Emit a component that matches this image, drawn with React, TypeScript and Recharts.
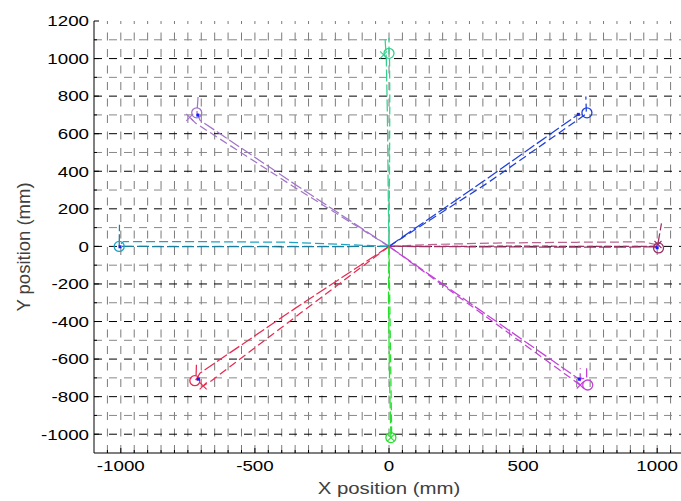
import { ComposedChart, Line, Scatter, XAxis, YAxis, CartesianGrid } from "recharts"

type Pt = { x: number; y: number }

// axes (mm)
const xDomain = [-1100, 1100]
const yDomain = [-1100, 1200]
const xLabelTicks = [-1000, -500, 0, 500, 1000]
const xGrid = [
  -1050, -1000, -950, -900, -850, -800, -750, -700, -650, -600, -550, -500, -450, -400, -350,
  -300, -250, -200, -150, -100, -50, 0, 50, 100, 150, 200, 250, 300, 350, 400, 450, 500, 550,
  600, 650, 700, 750, 800, 850, 900, 950, 1000, 1050,
]
const yLabelTicks = [-1000, -800, -600, -400, -200, 0, 200, 400, 600, 800, 1000, 1200]
const yGridMajor = [-1000, -800, -600, -400, -200, 0, 200, 400, 600, 800, 1000]
const yGridMinor = [-900, -700, -500, -300, -100, 100, 300, 500, 700, 900, 1100]
const yTicksAll = [
  -1000, -900, -800, -700, -600, -500, -400, -300, -200, -100, 0, 100, 200, 300, 400, 500, 600,
  700, 800, 900, 1000, 1100, 1200,
]

// trajectories (mm), two or three trials per direction
const eastA: Pt[] = [{ x: 0, y: 0 }, { x: 300, y: -2 }, { x: 700, y: -4 }, { x: 1000, y: -3 }, { x: 1003, y: 15 }, { x: 1016, y: 123 }]
const eastB: Pt[] = [{ x: 0, y: 0 }, { x: 150, y: 10 }, { x: 400, y: 18 }, { x: 700, y: 22 }, { x: 950, y: 24 }, { x: 1000, y: 8 }]
const eastC: Pt[] = [{ x: 0, y: 0 }, { x: 500, y: 1 }, { x: 1000, y: 0 }]
const northEastA: Pt[] = [{ x: 0, y: 0 }, { x: 350, y: 345 }, { x: 706, y: 703 }]
const northEastB: Pt[] = [{ x: 0, y: 0 }, { x: 370, y: 340 }, { x: 720, y: 690 }, { x: 736, y: 706 }, { x: 734, y: 798 }]
const northA: Pt[] = [{ x: 0, y: 0 }, { x: -3, y: 300 }, { x: -6, y: 700 }, { x: -10, y: 1000 }, { x: -15, y: 1115 }]
const northB: Pt[] = [{ x: 0, y: 0 }, { x: 2, y: 400 }, { x: 3, y: 800 }, { x: 2, y: 1000 }, { x: 0, y: 1030 }, { x: 0, y: 1110 }]
const northWestA: Pt[] = [{ x: 0, y: 0 }, { x: -350, y: 330 }, { x: -705, y: 672 }, { x: -716, y: 712 }, { x: -712, y: 795 }]
const northWestB: Pt[] = [{ x: 0, y: 0 }, { x: -360, y: 322 }, { x: -720, y: 655 }, { x: -743, y: 687 }]
const westA: Pt[] = [{ x: 0, y: 0 }, { x: -400, y: -2 }, { x: -800, y: -1 }, { x: -1006, y: 0 }, { x: -1005, y: 115 }]
const westB: Pt[] = [{ x: 0, y: 0 }, { x: -370, y: 22 }, { x: -700, y: 25 }, { x: -990, y: 26 }, { x: -1006, y: 5 }]
const southWestA: Pt[] = [{ x: 0, y: 0 }, { x: -350, y: -330 }, { x: -705, y: -675 }, { x: -720, y: -712 }, { x: -718, y: -630 }]
const southWestB: Pt[] = [{ x: 0, y: 0 }, { x: -330, y: -355 }, { x: -662, y: -715 }, { x: -693, y: -743 }]
const southA: Pt[] = [{ x: 0, y: 0 }, { x: -2, y: -300 }, { x: 2, y: -700 }, { x: 7, y: -1018 }]
const southB: Pt[] = [{ x: 0, y: 0 }, { x: 4, y: -400 }, { x: 8, y: -800 }, { x: 10, y: -1000 }]
const southEastA: Pt[] = [{ x: 0, y: 0 }, { x: 355, y: -355 }, { x: 709, y: -707 }, { x: 737, y: -700 }, { x: 737, y: -649 }]
const southEastB: Pt[] = [{ x: 0, y: 0 }, { x: 360, y: -372 }, { x: 713, y: -738 }, { x: 713, y: -649 }]

// end markers (mm), order E, NE, N, NW, W, SW, S, SE
const targets: Pt[] = [
  { x: 1005, y: -8 }, { x: 738, y: 711 }, { x: 0, y: 1028 }, { x: -717, y: 711 },
  { x: -1006, y: 0 }, { x: -724, y: -715 }, { x: 7, y: -1018 }, { x: 741, y: -738 },
]
const crosses: Pt[] = [
  { x: 1003, y: 10 }, { x: -20, y: 1020 }, { x: -743, y: 687 }, { x: -693, y: -743 },
  { x: 7, y: -1018 }, { x: 713, y: -738 },
]
const endDots: Pt[] = [
  { x: 1000, y: -7 }, { x: 706, y: 703 }, { x: -713, y: 699 }, { x: -1003, y: -2 },
  { x: -711, y: -707 }, { x: 709, y: -707 },
]

const FONT = "'Liberation Sans', Arial, Helvetica, sans-serif"
const COLORS = ["#9a3064", "#1f3fdc", "#34d08e", "#a274c8", "#1ca2c4", "#e82a50", "#26e02c", "#c242d8"]

const paths = [
  { data: eastA, color: COLORS[0], dash: "12 3" },
  { data: eastB, color: "#b8648e", dash: "9 4" },
  { data: eastC, color: COLORS[0], dash: "6 3" },
  { data: northEastA, color: COLORS[1], dash: "12 3" },
  { data: northEastB, color: COLORS[1], dash: "8 4" },
  { data: northA, color: COLORS[2], dash: "12 3" },
  { data: northB, color: COLORS[2], dash: "8 4" },
  { data: northWestA, color: COLORS[3], dash: "12 3" },
  { data: northWestB, color: COLORS[3], dash: "8 4" },
  { data: westA, color: "#197f9c", dash: "12 3" },
  { data: westB, color: COLORS[4], dash: "9 4" },
  { data: southWestA, color: COLORS[5], dash: "12 3" },
  { data: southWestB, color: COLORS[5], dash: "8 4" },
  { data: southA, color: COLORS[6], dash: "12 3" },
  { data: southB, color: COLORS[6], dash: "8 4" },
  { data: southEastA, color: COLORS[7], dash: "12 3" },
  { data: southEastB, color: COLORS[7], dash: "8 4" },
]
const crossColors = [COLORS[0], COLORS[2], COLORS[3], COLORS[5], COLORS[6], COLORS[7]]

function BottomTick(props: any) {
  const { x, y, payload } = props
  const v = payload.value
  const major = xLabelTicks.includes(v)
  return (
    <g>
      <line x1={x} x2={x} y1={y} y2={y - (major ? 5 : 3)} stroke="#000" />
      {major && (
        <text transform={`translate(${x},${y + 18}) scale(1.25,1)`} textAnchor="middle"
          fontSize={15} fill="#000" fontFamily={FONT}>{v}</text>
      )}
    </g>
  )
}

function TopTick(props: any) {
  const { x, y } = props
  return <line x1={x} x2={x} y1={y} y2={y + 5} stroke="#000" />
}

function LeftTick(props: any) {
  const { x, y, payload } = props
  const v = payload.value
  const major = yLabelTicks.includes(v)
  return (
    <g>
      <line x1={x} x2={x + (major ? 5 : 3)} y1={y} y2={y} stroke="#000" />
      {major && (
        <text transform={`translate(${x - 5},${y + 5.3}) scale(1.25,1)`} textAnchor="end"
          fontSize={15} fill="#000" fontFamily={FONT}>{v}</text>
      )}
    </g>
  )
}

function XTitle(props: any) {
  const vb = props.viewBox
  return (
    <text transform={`translate(${vb.x + vb.width / 2},${vb.y + 41}) scale(1.2,1)`} textAnchor="middle"
      fontSize={17} fill="#404040" fontFamily={FONT}>X position (mm)</text>
  )
}

function YTitle() {
  return (
    <text transform="translate(29.5,247) rotate(-90)" textAnchor="middle"
      fontSize={18.5} fill="#404040" fontFamily={FONT}>Y position (mm)</text>
  )
}

const ring = (color: string) => (p: any) =>
  <circle cx={p.cx} cy={p.cy} r={5} fill="none" stroke={color} strokeWidth={1.3} />
const cross = (color: string) => (p: any) => (
  <path d={`M${p.cx - 3.5},${p.cy - 3.5}L${p.cx + 3.5},${p.cy + 3.5}M${p.cx - 3.5},${p.cy + 3.5}L${p.cx + 3.5},${p.cy - 3.5}`}
    stroke={color} strokeWidth={1.1} fill="none" />
)
const dot = (p: any) => <rect x={p.cx - 1.5} y={p.cy - 1.5} width={3} height={3} fill="#1a1aff" />

export default function App() {
  return (
    <div style={{ position: "absolute", left: 0, top: 0, width: 681, height: 501, overflow: "hidden", background: "#fff" }}>
      <ComposedChart width={700} height={501} margin={{ top: 21, right: 16, bottom: 0, left: 0 }}>
        <CartesianGrid vertical={true} horizontal={false} verticalValues={xGrid}
          stroke="#7a7a7a" strokeDasharray="8 8.5" strokeDashoffset={5} />
        <CartesianGrid vertical={false} horizontal={true} horizontalValues={yGridMinor}
          stroke="#888" strokeDasharray="8 7" />
        <CartesianGrid vertical={false} horizontal={true} horizontalValues={yGridMajor}
          stroke="#000" strokeDasharray="8 7" />
        <XAxis dataKey="x" type="number" domain={xDomain} allowDataOverflow ticks={xGrid} interval={0}
          height={48} tickSize={0} tickMargin={0} tick={(p: any) => <BottomTick {...p} />}
          axisLine={{ stroke: "#000" }} tickLine={false} label={<XTitle />} />
        <XAxis xAxisId="top" orientation="top" dataKey="x" type="number" domain={xDomain} allowDataOverflow
          ticks={xLabelTicks} interval={0} height={0} tickSize={0} tickMargin={0}
          tick={(p: any) => <TopTick {...p} />} axisLine={{ stroke: "#000" }} tickLine={false} />
        <YAxis dataKey="y" type="number" domain={yDomain} allowDataOverflow ticks={yTicksAll} interval={0}
          width={94} tickSize={0} tickMargin={0} tick={(p: any) => <LeftTick {...p} />}
          axisLine={{ stroke: "#000" }} tickLine={false} label={<YTitle />} />
        {paths.map((s, i) => (
          <Line key={"p" + i} data={s.data} dataKey="y" type="linear" stroke={s.color} strokeWidth={1.25}
            strokeDasharray={s.dash} dot={false} activeDot={false} isAnimationActive={false} />
        ))}
        {targets.map((t, i) => (
          <Scatter key={"t" + i} data={[t]} dataKey="y" shape={ring(COLORS[i])} isAnimationActive={false} />
        ))}
        {crosses.map((c, i) => (
          <Scatter key={"c" + i} data={[c]} dataKey="y" shape={cross(crossColors[i])} isAnimationActive={false} />
        ))}
        <Scatter data={endDots} dataKey="y" shape={dot} isAnimationActive={false} />
      </ComposedChart>
    </div>
  )
}
